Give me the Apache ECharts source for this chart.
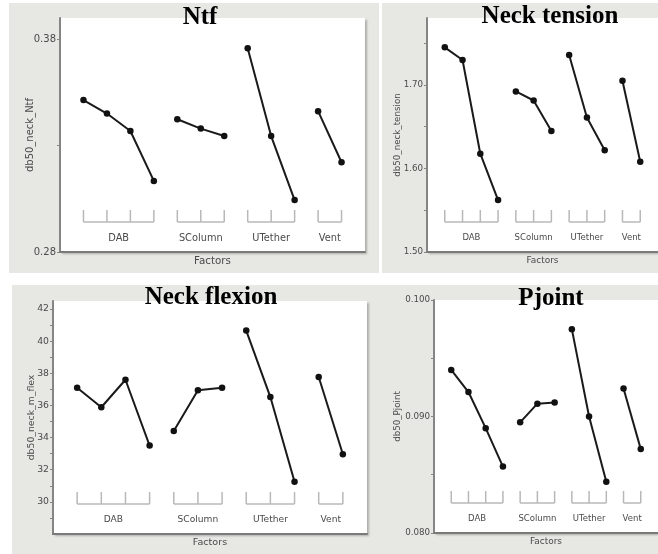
<!DOCTYPE html>
<html>
<head>
<meta charset="utf-8">
<script src="https://cdn.jsdelivr.net/npm/echarts@6/dist/echarts.min.js"></script>
<style>
html,body{margin:0;padding:0;background:#fff;}
#chart{width:658px;height:554px;}
</style>
</head>
<body>
<div id="chart"></div>
<script>
// ---- data ----
const factors = ['DAB', 'SColumn', 'UTether', 'Vent'];
const levelCounts = [4, 3, 3, 2];
const titles = ['Ntf', 'Neck tension', 'Neck flexion', 'Pjoint'];
const yNames = ['db50_neck_Ntf', 'db50_neck_tension', 'db50_neck_m_flex', 'db50_Pjoint'];

const ntfMeans = [[0.3514, 0.3451, 0.3369, 0.3134], [0.3424, 0.3380, 0.3345], [0.3758, 0.3345, 0.3044], [0.3462, 0.3222]];
const tensionMeans = [[1.7449, 1.7298, 1.6176, 1.5621], [1.6921, 1.6813, 1.6449], [1.7358, 1.6609, 1.6217], [1.7049, 1.6080]];
const flexMeans = [[37.10, 35.89, 37.60, 33.50], [34.41, 36.94, 37.10], [40.66, 36.52, 31.25], [37.77, 32.96]];
const pjointMeans = [[0.0940, 0.0921, 0.0890, 0.0857], [0.0895, 0.0911, 0.0912], [0.0975, 0.0900, 0.0844], [0.0924, 0.0872]];

const ntfTicks = [0.28, 0.33, 0.38];
const ntfLabels = [0.28, 0.38];
const tensionTicks = [1.50, 1.55, 1.60, 1.65, 1.70, 1.75];
const tensionLabels = [1.50, 1.60, 1.70];
const flexTicks = [29, 30, 31, 32, 33, 34, 35, 36, 37, 38, 39, 40, 41, 42];
const flexLabels = [30, 32, 34, 36, 38, 40, 42];
const pjointTicks = [0.080, 0.085, 0.090, 0.095, 0.100];
const pjointLabels = [0.080, 0.090, 0.100];

// ---- layout / style ----
const panels = [
  {means: ntfMeans, ticks: ntfTicks, labels: ntfLabels, min: 0.28, max: 0.39, dec: 2, fs: 1.0,
   grid: {left: 60, top: 18, width: 305, height: 234}, nameGap: 25,
   bg: [9, 3, 370, 270], title: [200, 5]},
  {means: tensionMeans, ticks: tensionTicks, labels: tensionLabels, min: 1.50, max: 1.78, dec: 2, fs: 0.87,
   grid: {left: 427, top: 18, width: 231, height: 234}, nameGap: 25,
   bg: [382, 3, 276, 270], title: [550, 4]},
  {means: flexMeans, ticks: flexTicks, labels: flexLabels, min: 28, max: 42.5, dec: 0, fs: 0.93,
   grid: {left: 53, top: 301, width: 314, height: 233}, nameGap: 17,
   bg: [12, 285, 370, 269], title: [211, 285]},
  {means: pjointMeans, ticks: pjointTicks, labels: pjointLabels, min: 0.080, max: 0.100, dec: 3, fs: 0.87,
   grid: {left: 434, top: 300, width: 224, height: 233}, nameGap: 32,
   bg: [381, 285, 277, 269], title: [551, 286]}
];

const axisColor = '#858585';
const textColor = '#4a4a4a';
const sans = 'DejaVu Sans';

const starts = [];
levelCounts.reduce((acc, n) => { starts.push(acc); return acc + n; }, 0);
const totalLevels = levelCounts.reduce((a, b) => a + b, 0);

const grids = [], xAxes = [], yAxes = [], series = [], graphics = [];

panels.forEach((p, k) => {
  const fs = p.fs;
  grids.push(Object.assign({
    show: true, backgroundColor: '#ffffff', borderWidth: 0,
    shadowColor: 'rgba(0,0,0,0.25)', shadowBlur: 2, shadowOffsetX: 1.5, shadowOffsetY: 1.5
  }, p.grid));
  xAxes.push({
    gridIndex: k, type: 'value', min: -1, max: totalLevels,
    axisLine: {show: true, onZero: false, lineStyle: {color: '#7a7a7a', width: 2}},
    axisTick: {show: false}, axisLabel: {show: false}, splitLine: {show: false},
    name: 'Factors', nameLocation: 'middle', nameGap: 4, nameMoveOverlap: false,
    nameTextStyle: {color: textColor, fontSize: 10.3 * fs, fontFamily: sans, verticalAlign: 'top'}
  });
  yAxes.push({
    gridIndex: k, type: 'value', min: p.min, max: p.max,
    axisLine: {show: true, onZero: false, lineStyle: {color: axisColor, width: 2}},
    axisTick: {show: true, length: 3, customValues: p.ticks, lineStyle: {color: axisColor, width: 1}},
    axisLabel: {show: true, customValues: p.labels, margin: 4, color: textColor, fontSize: 10 * fs, fontFamily: sans,
      formatter: v => Number(v).toFixed(p.dec)},
    splitLine: {show: false},
    name: yNames[k], nameLocation: 'middle', nameGap: p.nameGap, nameMoveOverlap: false,
    nameTextStyle: {color: textColor, fontSize: 10 * fs, fontFamily: sans}
  });
  // one line per factor
  factors.forEach((f, j) => {
    series.push({
      type: 'line', xAxisIndex: k, yAxisIndex: k, name: titles[k] + ' ' + f,
      data: p.means[j].map((v, i) => [starts[j] + i, v]),
      symbol: 'circle', symbolSize: 6.5, showSymbol: true,
      itemStyle: {color: '#111'}, lineStyle: {color: '#1a1a1a', width: 2},
      emphasis: {disabled: true}, silent: true, z: 3
    });
  });
  // factor brackets + labels
  series.push({
    type: 'custom', xAxisIndex: k, yAxisIndex: k, silent: true, clip: false,
    encode: {x: [0, 1], y: 2},
    data: factors.map((f, j) => [starts[j], starts[j] + levelCounts[j] - 1, p.min]),
    renderItem: function (params, api) {
      const cs = params.coordSys;
      const bottom = cs.y + cs.height;
      const s = api.value(0), e = api.value(1);
      const yTop = bottom - 42, yLow = bottom - 30;
      const xs = [];
      for (let i = s; i <= e; i++) xs.push(api.coord([i, api.value(2)])[0]);
      const st = {stroke: '#b8b8b8', lineWidth: 1.5};
      const children = xs.map(x => ({type: 'line', shape: {x1: x, y1: yTop, x2: x, y2: yLow}, style: st}));
      children.push({type: 'line', shape: {x1: xs[0], y1: yLow, x2: xs[xs.length - 1], y2: yLow}, style: st});
      children.push({type: 'text', style: {
        text: factors[params.dataIndex], x: (xs[0] + xs[xs.length - 1]) / 2, y: bottom - 14,
        align: 'center', verticalAlign: 'middle', fill: textColor, fontSize: 9.8 * fs, fontFamily: sans
      }});
      return {type: 'group', children: children};
    },
    z: 2
  });
  graphics.push({type: 'rect', z: -100, silent: true,
    shape: {x: p.bg[0], y: p.bg[1], width: p.bg[2], height: p.bg[3]},
    style: {fill: '#e7e7e3'}});
  graphics.push({type: 'text', z: 100, silent: true,
    style: {text: titles[k], x: p.title[0], y: p.title[1], align: 'center', verticalAlign: 'top',
      fill: '#000', fontSize: 25, fontWeight: 'bold', fontFamily: 'Liberation Serif'}});
});

const chart = echarts.init(document.getElementById('chart'), null, {renderer: 'canvas'});
chart.setOption({
  animation: false,
  backgroundColor: '#ffffff',
  grid: grids, xAxis: xAxes, yAxis: yAxes, series: series,
  graphic: {elements: graphics}
});
</script>
</body>
</html>
